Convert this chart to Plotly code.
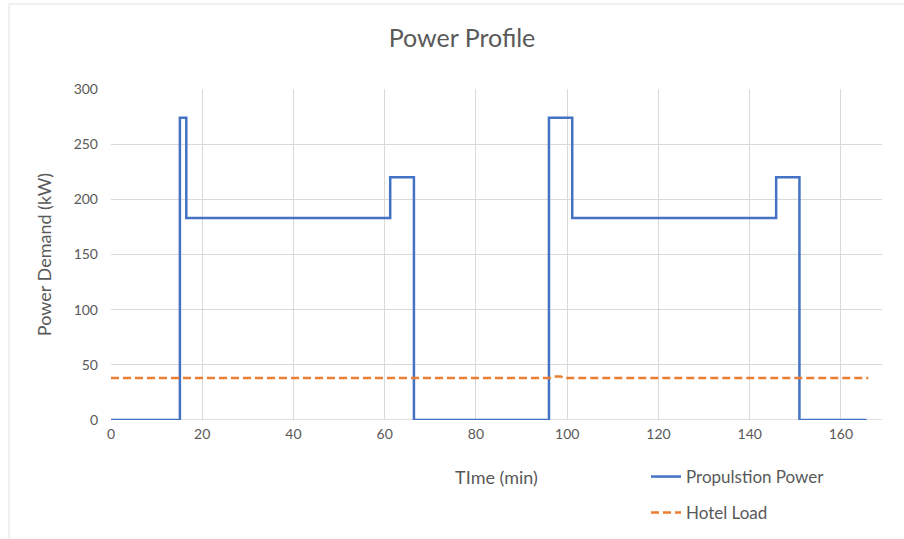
import plotly.graph_objects as go

# Propulsion power step profile (time in min, power in kW)
prop_time = [0, 15.1, 16.5, 61.2, 66.4, 96.0, 101.1, 145.8, 150.9, 165.6]
prop_power = [0, 274, 183, 220, 0, 274, 183, 220, 0, 0]

# Hotel load
hotel_time = [0, 96.3, 97.2, 98.6, 99.3, 166]
hotel_power = [38, 38, 39.5, 39.5, 38, 38]

x_ticks = [0, 20, 40, 60, 80, 100, 120, 140, 160]
y_ticks = [0, 50, 100, 150, 200, 250, 300]

FONT = "Lato, 'Open Sans', sans-serif"
GRAY = "#595959"
GRID = "#D9D9D9"

W, H = 904, 539
L, R, T, B = 111, 882, 89, 420

def px2paper_x(px):
    return (px - L) / (R - L)

def px2paper_y(py):
    return (B - py) / (B - T)

fig = go.Figure()
fig.add_trace(go.Scatter(
    x=prop_time, y=prop_power, mode="lines", name="Propulstion Power",
    line=dict(color="#4472C4", width=2.5, shape="hv"), legend="legend"))
fig.add_trace(go.Scatter(
    x=hotel_time, y=hotel_power, mode="lines", name="Hotel Load",
    line=dict(color="#ED7D31", width=2.5, dash="8px,4px"), legend="legend2"))

fig.update_layout(
    width=W, height=H,
    margin=dict(l=L, r=W - R, t=T, b=H - B, autoexpand=False),
    paper_bgcolor="white", plot_bgcolor="white",
    font=dict(family=FONT, color=GRAY),
    title=dict(text="Power Profile", x=462 / W, xanchor="center", xref="container",
               y=1 - 38 / H, yanchor="middle", yref="container",
               font=dict(size=25, color=GRAY, family=FONT)),
    xaxis=dict(range=[0, 169], tickvals=x_ticks, showgrid=True, gridcolor=GRID,
               gridwidth=1, zeroline=False, showline=False, ticks="", automargin=False,
               tickfont=dict(size=14, color=GRAY), ticklabelstandoff=4,
               title=dict(text="TIme (min)", font=dict(size=18, color=GRAY), standoff=30)),
    yaxis=dict(range=[0, 300], tickvals=y_ticks, showgrid=True, gridcolor=GRID,
               gridwidth=1, zeroline=False, showline=False, ticks="", automargin=False,
               tickfont=dict(size=14, color=GRAY), ticklabelstandoff=12,
               title=dict(text="Power Demand (kW)", font=dict(size=18, color=GRAY), standoff=17)),
    legend=dict(x=px2paper_x(646), y=px2paper_y(477), xanchor="left", yanchor="middle",
                bgcolor="rgba(0,0,0,0)", font=dict(size=17, color=GRAY)),
    legend2=dict(x=px2paper_x(646), y=px2paper_y(513), xanchor="left", yanchor="middle",
                 bgcolor="rgba(0,0,0,0)", font=dict(size=17, color=GRAY)),
    showlegend=True,
)

# x-axis baseline (gray) at y=0
fig.add_shape(type="line", xref="paper", yref="y", x0=0, x1=1, y0=0, y1=0,
              line=dict(color="#BFBFBF", width=1), layer="below")

# faint chart-area border from the spreadsheet
fig.add_shape(type="line", xref="paper", yref="paper",
              x0=px2paper_x(9), x1=px2paper_x(9), y0=px2paper_y(4), y1=px2paper_y(539),
              line=dict(color="#E3E3E3", width=1))
fig.add_shape(type="line", xref="paper", yref="paper",
              x0=px2paper_x(9), x1=px2paper_x(904), y0=px2paper_y(4), y1=px2paper_y(4),
              line=dict(color="#E3E3E3", width=1))

fig.write_html("out.html")
